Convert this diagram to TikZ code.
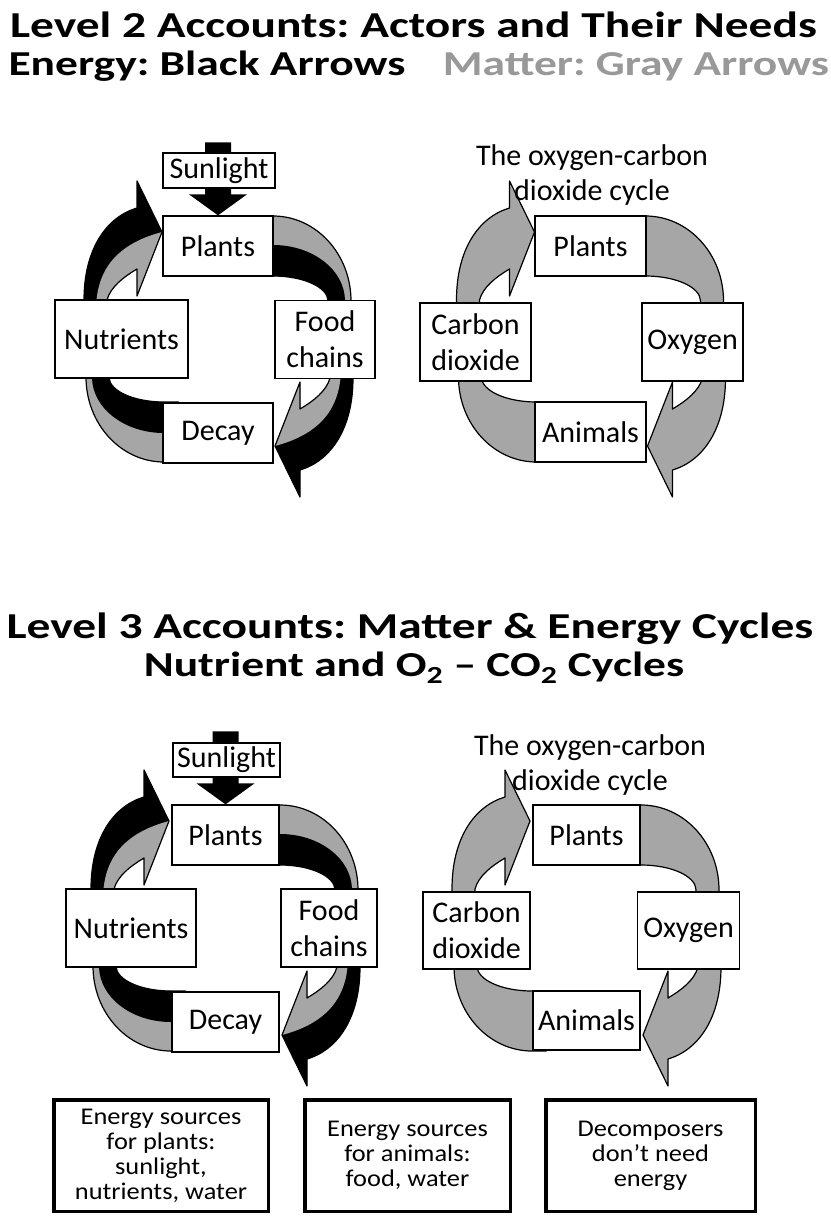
\documentclass[tikz,border=0pt]{standalone}
\usepackage{fontspec}
\setmainfont{Carlito}
\newfontfamily\headfont{Carlito}[FakeStretch=1.3]
\newfontfamily\notefont{Carlito}[FakeStretch=1.1]
\definecolor{mattergray}{gray}{0.65}
\definecolor{titlegray}{gray}{0.6}
\frenchspacing

% the four curved arrows of one cycle, #1 = outer colour into Plants, #2 = inner colour
\newcommand{\cyclebands}[2]{%
  \foreach \turn in {0,180}{%
    \begin{scope}[rotate=\turn]
      \fill[#1] (-134.5,-25) -- (-134.5,-39) .. controls (-134.5,-90) and (-112,-122) .. (-81.5,-131) -- (-81.5,-158) -- (-56.5,-107) -- (-81.5,-43) -- (-81.5,-70) .. controls (-95,-62) and (-108,-52) .. (-111.5,-39) -- (-111.5,-25) -- cycle;
      \fill[#2] (-122,-25) -- (-122,-39) .. controls (-118,-80) and (-90,-98) .. (-56.5,-107) -- (-81.5,-43) -- (-81.5,-70) .. controls (-95,-62) and (-108,-52) .. (-111.5,-39) -- (-111.5,-25) -- cycle;
      \draw[band] (-134.5,-25) -- (-134.5,-39) .. controls (-134.5,-90) and (-112,-122) .. (-81.5,-131) -- (-81.5,-158) -- (-56.5,-107) -- (-81.5,-43) -- (-81.5,-70) .. controls (-95,-62) and (-108,-52) .. (-111.5,-39) -- (-111.5,-25) -- cycle;
      %
      \fill[#2] (40,-123) -- (54.5,-123) arc[start angle=-90, end angle=0, x radius=78, y radius=85] -- (132.5,-25) -- (109.5,-25) -- (109.5,-38) arc[start angle=0, end angle=-90, x radius=55, y radius=25] -- (40,-63) -- cycle;
      \fill[#1] (40,-94) -- (54.5,-94) arc[start angle=-90, end angle=0, x radius=72, y radius=56] -- (126.5,-25) -- (109.5,-25) -- (109.5,-38) arc[start angle=0, end angle=-90, x radius=55, y radius=25] -- (40,-63) -- cycle;
      \draw[band] (40,-123) -- (54.5,-123) arc[start angle=-90, end angle=0, x radius=78, y radius=85] -- (132.5,-25) -- (109.5,-25) -- (109.5,-38) arc[start angle=0, end angle=-90, x radius=55, y radius=25] -- (40,-63) -- cycle;
    \end{scope}}}

\begin{document}
\begin{tikzpicture}[x=1pt, y=-1pt,
  band/.style={draw=black, line width=1.2pt, line join=round},
  cellbox/.style={draw, line width=1.3pt, fill=white, align=center, inner sep=0pt, font=\fontsize{30}{36}\selectfont},
  notebox/.style={draw, line width=3.5pt, fill=white, align=center, inner sep=0pt, font=\notefont\fontsize{24}{25}\selectfont},
  headline/.style={anchor=base, inner sep=0pt, font=\headfont\bfseries\fontsize{36.5}{40}\selectfont},
  subline/.style={anchor=base, inner sep=0pt, font=\headfont\bfseries\fontsize{35}{40}\selectfont}]
\fill[white] (0,0) rectangle (830,1225);
\useasboundingbox (0,0) rectangle (830,1225);

% headings
\node[headline] (lvltwo) at (413.5,38) {Level 2 Accounts: Actors and Their Needs};
\node[subline] (energy) at (207,76) {Energy: Black Arrows};
\node[subline, text=titlegray] (matter) at (636,76) {Matter: Gray Arrows};
\node[headline] (lvlthree) at (410,638) {Level 3 Accounts: Matter \& Energy Cycles};
\node[subline] (cycles) at (414,676) {Nutrient and O\textsubscript{2} – CO\textsubscript{2} Cycles};

% level 2, nutrient cycle
\begin{scope}[shift={(218.5,339)}]
  \cyclebands{black}{mattergray}
  \node[cellbox, minimum width=110pt, minimum height=60pt] (twoplants) at (-0.5,-93) {Plants};
  \node[cellbox, minimum width=133pt, minimum height=78pt] (twonutrients) at (-97,0) {Nutrients};
  \node[cellbox, minimum width=100pt, minimum height=78pt] (twofood) at (106.5,0.5) {Food\\chains};
  \node[cellbox, minimum width=110pt, minimum height=60pt] (twodecay) at (-0.5,94) {Decay};
  \fill[black] (twoplants.north) -- ++(-29,-21) -- ++(16,0) -- ++(0,-52) -- ++(26,0) -- ++(0,52) -- ++(16,0) -- cycle;
  \node[cellbox, minimum width=112pt, minimum height=35pt] (twosun) at (0.5,-168.5) {Sunlight};
\end{scope}

% level 2, oxygen-carbon dioxide cycle
\begin{scope}[shift={(591,339)}]
  \cyclebands{mattergray}{mattergray}
  \node[cellbox, minimum width=111pt, minimum height=60pt] (twoplantsox) at (-0.5,-93) {Plants};
  \node[cellbox, minimum width=111pt, minimum height=78pt] (twocarbon) at (-115.5,3) {Carbon\\dioxide};
  \node[cellbox, minimum width=101pt, minimum height=78pt] (twooxygen) at (101.5,3) {Oxygen};
  \node[cellbox, minimum width=111pt, minimum height=60pt] (twoanimals) at (-0.5,93) {Animals};
  \node[align=center, inner sep=0pt, font=\fontsize{30}{35}\selectfont] (twotitle) at (1,-164) {The oxygen-carbon\\dioxide cycle};
\end{scope}

% level 3, nutrient cycle
\begin{scope}[shift={(225.5,928)}]
  \cyclebands{black}{mattergray}
  \node[cellbox, minimum width=107pt, minimum height=60pt] (threeplants) at (0,-93) {Plants};
  \node[cellbox, minimum width=130pt, minimum height=78pt] (threenutrients) at (-94.5,0) {Nutrients};
  \node[cellbox, minimum width=96pt, minimum height=78pt] (threefood) at (103.5,0) {Food\\chains};
  \node[cellbox, minimum width=107pt, minimum height=60pt] (threedecay) at (0,94) {Decay};
  \fill[black] (threeplants.north) -- ++(-29,-21) -- ++(16,0) -- ++(0,-52) -- ++(26,0) -- ++(0,52) -- ++(16,0) -- cycle;
  \node[cellbox, minimum width=107pt, minimum height=34pt] (threesun) at (1,-168) {Sunlight};
\end{scope}

% level 3, oxygen-carbon dioxide cycle
\begin{scope}[shift={(586.5,928)}]
  \cyclebands{mattergray}{mattergray}
  \node[cellbox, minimum width=107pt, minimum height=60pt] (threeplantsox) at (0,-93) {Plants};
  \node[cellbox, minimum width=107pt, minimum height=77pt] (threecarbon) at (-110,2.5) {Carbon\\dioxide};
  \node[cellbox, minimum width=102pt, minimum height=77pt] (threeoxygen) at (102,2.5) {Oxygen};
  \node[cellbox, minimum width=107pt, minimum height=59pt] (threeanimals) at (0,92.5) {Animals};
  \node[align=center, inner sep=0pt, font=\fontsize{30}{35}\selectfont] (threetitle) at (3.5,-163) {The oxygen-carbon\\dioxide cycle};
\end{scope}

% energy notes
\node[notebox, minimum width=214.5pt, minimum height=111.5pt] (noteplants) at (161,1155.5) {Energy sources\\for plants:\\sunlight,\\nutrients, water};
\node[notebox, minimum width=205.5pt, minimum height=111.5pt] (noteanimals) at (407.5,1155.5) {Energy sources\\for animals:\\food, water};
\node[notebox, minimum width=209.5pt, minimum height=111.5pt] (notedecomp) at (650.5,1155.5) {Decomposers\\don’t need\\energy};
\end{tikzpicture}
\end{document}
